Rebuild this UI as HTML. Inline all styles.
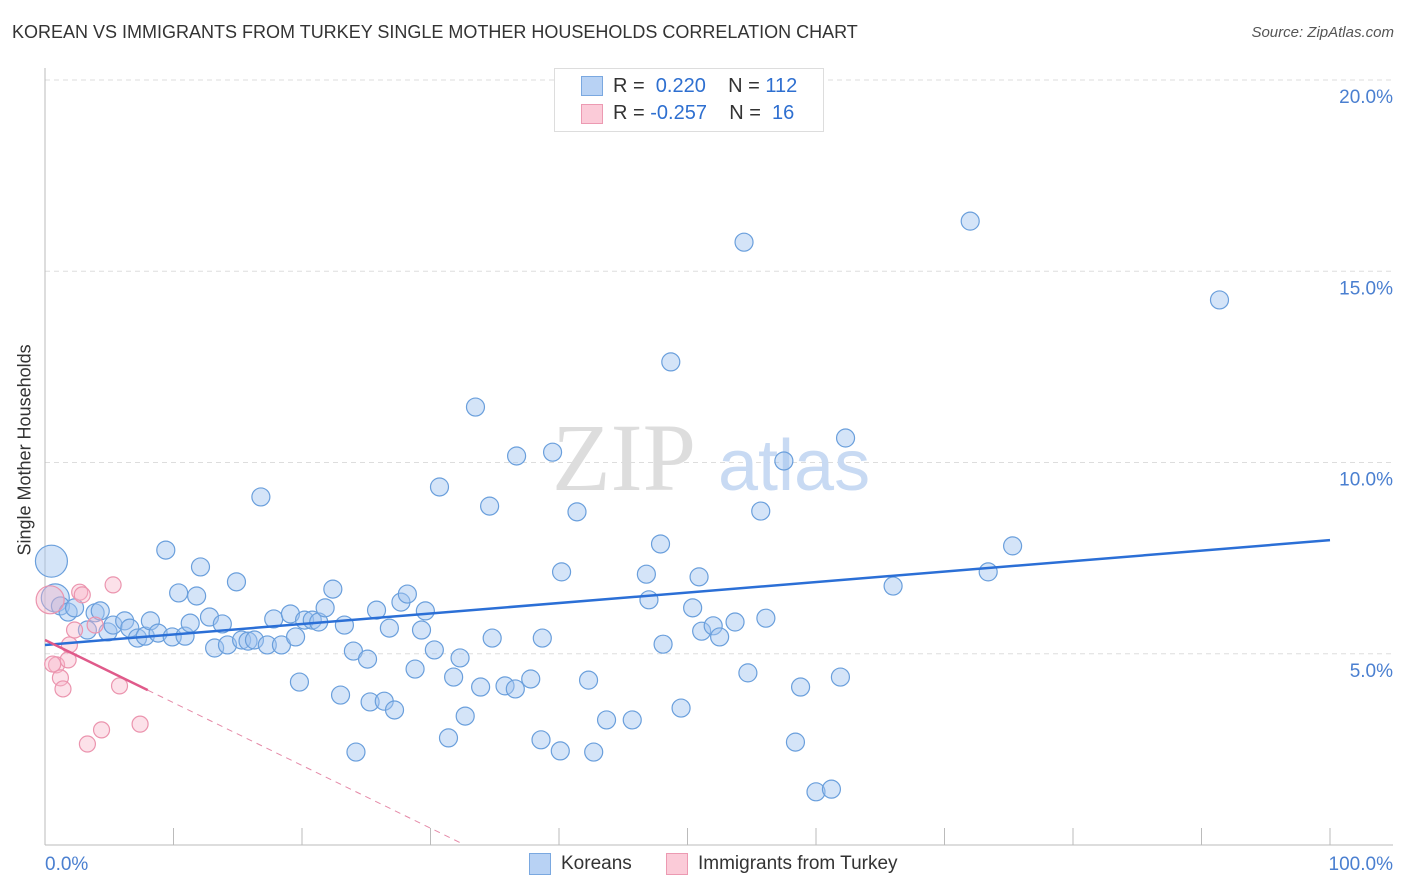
<!DOCTYPE html>
<html><head><meta charset="utf-8"><style>
body{margin:0;background:#fff;font-family:"Liberation Sans",sans-serif;}
#wrap{position:relative;width:1406px;height:892px;overflow:hidden;}
.t{position:absolute;white-space:nowrap;}
</style></head><body>
<div id="wrap">
<div class="t" style="left:12px;top:22px;font-size:18px;color:#333;">KOREAN VS IMMIGRANTS FROM TURKEY SINGLE MOTHER HOUSEHOLDS CORRELATION CHART</div>
<div class="t" style="right:12px;top:24px;font-size:15px;color:#555;font-style:italic;">Source: ZipAtlas.com</div>
<div class="t" style="left:-75px;top:445px;font-size:18px;color:#333;transform:rotate(-90deg);width:200px;text-align:center;">Single Mother Households</div>
<svg id="svg" width="1406" height="892" style="position:absolute;left:0;top:0"></svg>
<div style="position:absolute;left:554px;top:68px;width:268px;height:62px;border:1px solid #ddd;background:#fff;">
 <div style="position:absolute;left:26px;top:7px;width:20px;height:18px;background:#b8d2f4;border:1px solid #7aa8e0;"></div>
 <div class="t" style="left:58px;top:6px;font-size:20px;color:#333;">R = &nbsp;<span style="color:#2e6fd0">0.220</span>&nbsp;&nbsp;&nbsp; N = <span style="color:#2e6fd0">112</span></div>
 <div style="position:absolute;left:26px;top:35px;width:20px;height:18px;background:#fbcbd8;border:1px solid #ec9ab2;"></div>
 <div class="t" style="left:58px;top:33px;font-size:20px;color:#333;">R = <span style="color:#2e6fd0">-0.257</span>&nbsp;&nbsp;&nbsp; N = &nbsp;<span style="color:#2e6fd0">16</span></div>
</div>
<div style="position:absolute;left:529px;top:853px;width:20px;height:20px;background:#b8d2f4;border:1px solid #7aa8e0;"></div>
<div class="t" style="left:561px;top:853px;font-size:19px;color:#333;">Koreans</div>
<div style="position:absolute;left:666px;top:853px;width:20px;height:20px;background:#fbcbd8;border:1px solid #ec9ab2;"></div>
<div class="t" style="left:698px;top:853px;font-size:19px;color:#333;">Immigrants from Turkey</div>
</div>
<script>
const yTicks=[5,10,15,20];
const yTickLabels=["5.0%","10.0%","15.0%","20.0%"];
const xTicks=[0,10,20,30,40,50,60,70,80,90,100];
const koreanX=[0.5,0.8,1.2,1.8,2.3,3.3,3.9,4.3,4.9,5.3,6.2,6.6,7.2,7.8,8.2,8.8,9.4,9.9,10.4,10.9,11.3,11.8,12.1,12.8,13.2,13.8,14.2,14.9,15.3,15.8,16.3,16.8,17.3,17.8,18.4,19.1,19.5,19.8,20.2,20.8,21.3,21.8,22.4,23.0,23.3,24.0,24.2,25.1,25.3,25.8,26.4,26.8,27.2,27.7,28.2,28.8,29.3,29.6,30.3,30.7,31.4,31.8,32.3,32.7,33.5,33.9,34.6,34.8,35.8,36.6,36.7,37.8,38.6,38.7,39.5,40.1,40.2,41.4,42.3,42.7,43.7,45.7,46.8,47.0,47.9,48.1,48.7,49.5,50.4,50.9,51.1,52.0,52.5,53.7,54.4,54.7,55.7,56.1,57.5,58.4,58.8,60.0,61.2,61.9,62.3,66.0,72.0,73.4,75.3,91.4];
const koreanY=[7.42,6.46,6.25,6.09,6.20,5.62,6.07,6.12,5.57,5.75,5.86,5.67,5.41,5.46,5.86,5.54,7.71,5.44,6.59,5.46,5.80,6.51,7.27,5.96,5.15,5.78,5.23,6.88,5.36,5.33,5.36,9.10,5.23,5.91,5.23,6.04,5.44,4.26,5.88,5.88,5.83,6.20,6.69,3.92,5.75,5.07,2.43,4.86,3.74,6.14,3.76,5.67,3.53,6.35,6.56,4.60,5.62,6.12,5.10,9.36,2.80,4.39,4.89,3.37,11.45,4.13,8.86,5.41,4.16,4.08,10.17,4.34,2.75,5.41,10.27,2.46,7.14,8.71,4.31,2.43,3.27,3.27,7.08,6.41,7.87,5.25,12.63,3.58,6.20,7.01,5.59,5.73,5.44,5.83,15.76,4.50,8.73,5.93,10.04,2.69,4.13,1.39,1.46,4.39,10.64,6.77,16.31,7.14,7.82,14.25];
const turkeyX=[0.4,0.9,1.2,1.4,1.8,1.9,2.3,2.7,2.9,3.3,3.9,4.4,5.3,5.8,7.4,0.6];
const turkeyY=[6.41,4.71,4.37,4.08,4.84,5.23,5.62,6.61,6.54,2.64,5.75,3.01,6.80,4.16,3.16,4.73];
const koreanTrend=[5.23,7.97];
const turkeyTrend=[5.36,-0.164];
const X0=45,X1=1330,Y0=845,PY=38.25;
const xs=v=>X0+(X1-X0)*v/100, ys=v=>Y0-v*PY;
const svg=document.getElementById('svg');const NS='http://www.w3.org/2000/svg';
function mk(t,a){const e=document.createElementNS(NS,t);for(const k in a)e.setAttribute(k,a[k]);svg.appendChild(e);return e;}
yTicks.forEach((v,i)=>{
 const g=mk('line',{x1:X0,x2:1393,y1:ys(v),y2:ys(v),stroke:'#ddd','stroke-dasharray':'5,4'});
 
 
 const t=mk('text',{x:1393,y:ys(v)+23,'text-anchor':'end','font-size':19,fill:'#4a7fd0','font-family':'Liberation Sans, sans-serif'});
 t.textContent=yTickLabels[i];
 
 
});
const ttop=mk('line',{x1:X0,x2:1393,y1:80,y2:80,stroke:'#ddd','stroke-dasharray':'5,4'});


const ya=mk('line',{x1:X0,x2:X0,y1:68,y2:Y0,stroke:'#bbb'});


const xa=mk('line',{x1:X0,x2:1393,y1:Y0,y2:Y0,stroke:'#bbb'});


xTicks.forEach(v=>{const l=mk('line',{x1:xs(v),x2:xs(v),y1:828,y2:Y0,stroke:'#bbb'});
 
 });
const xl0=mk('text',{x:45,y:870,'font-size':19,fill:'#4a7fd0','font-family':'Liberation Sans, sans-serif'});xl0.textContent='0.0%';


const xl1=mk('text',{x:1393,y:870,'text-anchor':'end','font-size':19,fill:'#4a7fd0','font-family':'Liberation Sans, sans-serif'});xl1.textContent='100.0%';


const w1=mk('text',{x:552,y:490,'font-size':96,fill:'#ddd','font-family':'Liberation Serif, serif'});w1.textContent='ZIP';


const w2=mk('text',{x:718,y:490,'font-size':72,fill:'#c8daf3','font-family':'Liberation Sans, sans-serif'});w2.textContent='atlas';


koreanX.forEach((x,i)=>{const r=i==0?16:(i==1?14:9);
 const c=mk('circle',{cx:xs(x),cy:ys(koreanY[i]),r:r,fill:'rgba(160,196,240,0.45)',stroke:'#6a9fdc','stroke-width':1.2});
 
 });
turkeyX.forEach((x,i)=>{const r=i==0?14:8;
 const c=mk('circle',{cx:xs(x),cy:ys(turkeyY[i]),r:r,fill:'rgba(248,180,200,0.4)',stroke:'#eb94ae','stroke-width':1.2});
 
 });
const bl=mk('line',{x1:xs(0),y1:ys(koreanTrend[0]),x2:xs(100),y2:ys(koreanTrend[1]),stroke:'#2b6fd6','stroke-width':2.5});


const tf=x=>turkeyTrend[0]+turkeyTrend[1]*x;
const pl=mk('line',{x1:xs(0),y1:ys(tf(0)),x2:xs(8),y2:ys(tf(8)),stroke:'#e05a8a','stroke-width':2.5});


const xe=-turkeyTrend[0]/turkeyTrend[1]-0.3;
const pd=mk('line',{x1:xs(8),y1:ys(tf(8)),x2:xs(xe),y2:ys(tf(xe)),stroke:'#e58aa8','stroke-width':1,'stroke-dasharray':'6,5'});


</script>
</body></html>
